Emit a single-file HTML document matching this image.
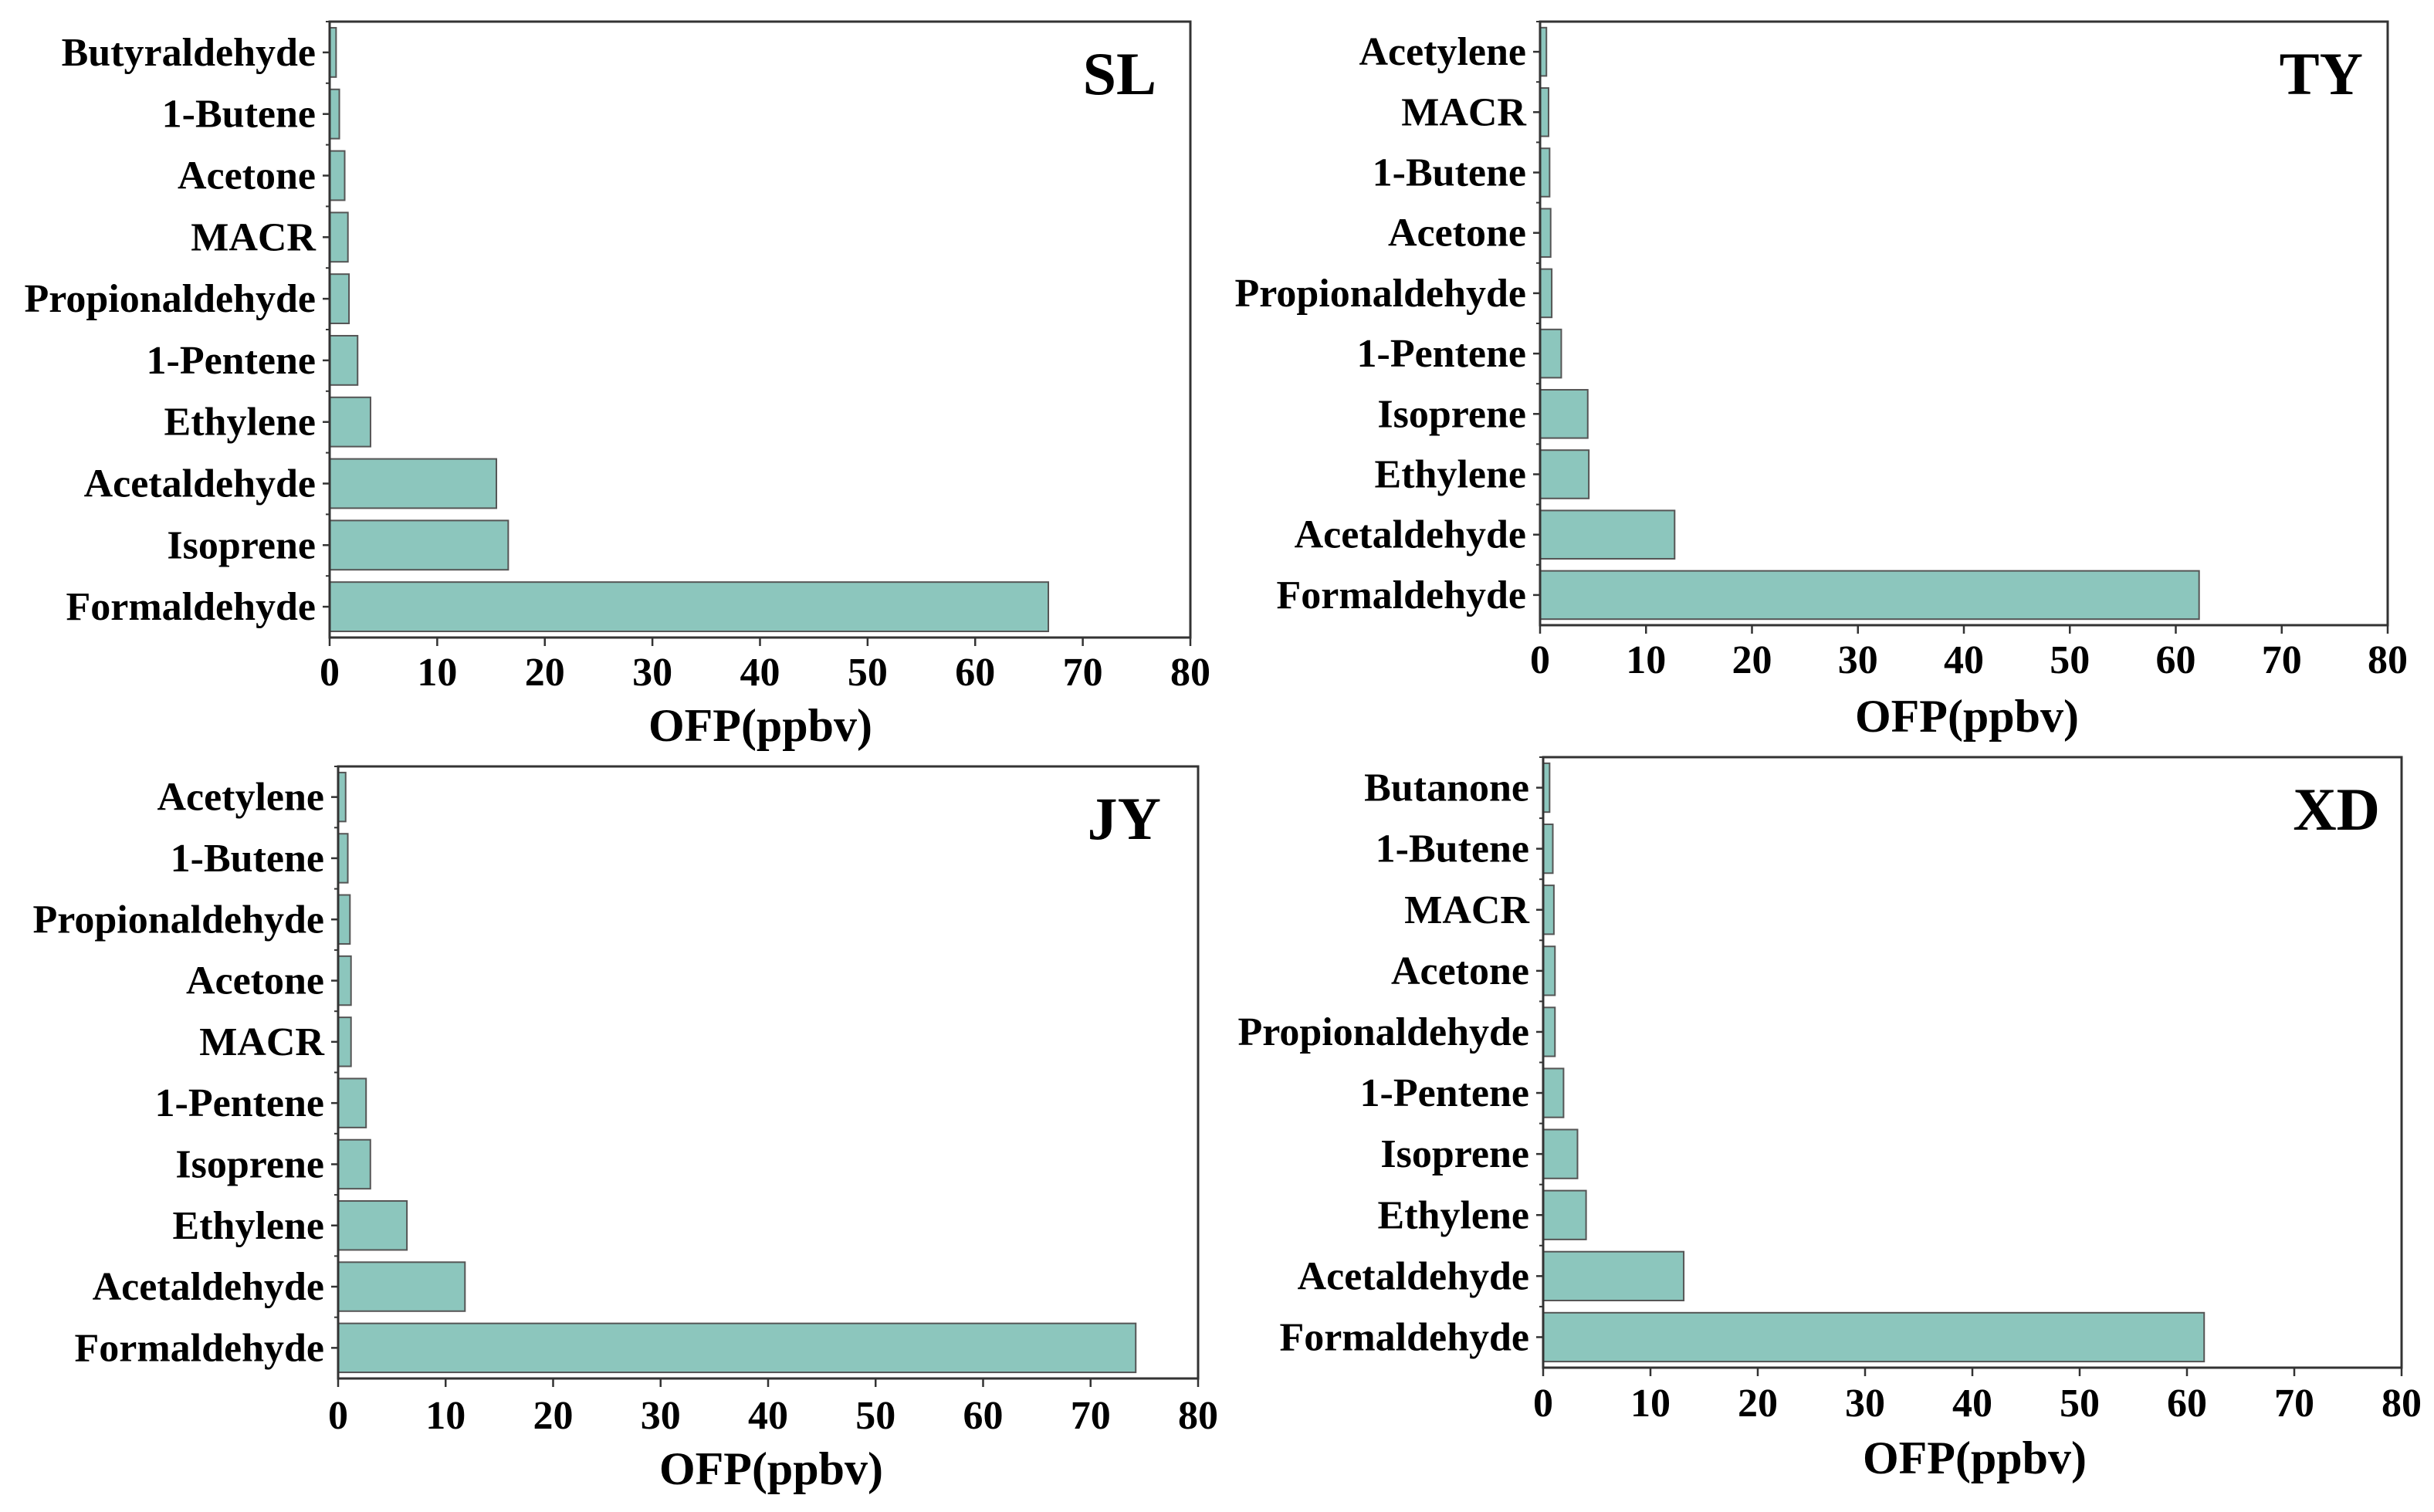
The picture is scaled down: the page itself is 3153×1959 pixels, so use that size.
<!DOCTYPE html>
<html><head><meta charset="utf-8"><style>
html,body{margin:0;padding:0;background:#fff;}
svg{display:block;}
text{font-family:"Liberation Serif",serif;font-weight:bold;fill:#000;}
</style></head>
<body>
<svg id="fig" width="3153" height="1959" viewBox="0 0 3153 1959" xmlns="http://www.w3.org/2000/svg"></svg>
<script>
const slCategories = ["Butyraldehyde","1-Butene","Acetone","MACR","Propionaldehyde","1-Pentene","Ethylene","Acetaldehyde","Isoprene","Formaldehyde"];
const slValues = [0.6,0.9,1.4,1.7,1.8,2.6,3.8,15.5,16.6,66.8];
const tyCategories = ["Acetylene","MACR","1-Butene","Acetone","Propionaldehyde","1-Pentene","Isoprene","Ethylene","Acetaldehyde","Formaldehyde"];
const tyValues = [0.6,0.8,0.9,1.0,1.1,2.0,4.5,4.6,12.7,62.2];
const jyCategories = ["Acetylene","1-Butene","Propionaldehyde","Acetone","MACR","1-Pentene","Isoprene","Ethylene","Acetaldehyde","Formaldehyde"];
const jyValues = [0.7,0.9,1.1,1.2,1.2,2.6,3.0,6.4,11.8,74.2];
const xdCategories = ["Butanone","1-Butene","MACR","Acetone","Propionaldehyde","1-Pentene","Isoprene","Ethylene","Acetaldehyde","Formaldehyde"];
const xdValues = [0.6,0.9,1.0,1.1,1.1,1.9,3.2,4.0,13.1,61.6];
const xTicks = [0,10,20,30,40,50,60,70,80];
const axisTitle = "OFP(ppbv)";

const NS = "http://www.w3.org/2000/svg";
const svg = document.getElementById("fig");
function mk(tag, attrs, parent){
  const e = document.createElementNS(NS, tag);
  for (const k in attrs) e.setAttribute(k, attrs[k]);
  (parent||svg).appendChild(e);
  return e;
}
function panel(id, name, cats, vals, L, R, T, B, tickBase, titleX, titleBase, labelRight, labelBase){
  const g = mk("g", {});
  
  
  const xs = v => L + (v - 0) / 80 * (R - L);
  const band = (B - T) / cats.length;
  const yc = i => T + band * (i + 0.5);
  cats.forEach((c, i) => {
    const bw = xs(vals[i]) - xs(0);
    const r = mk("rect", {x: xs(0), y: yc(i) - band*0.4, width: bw, height: band*0.8, fill: "#8cc6bd", stroke: "#555", "stroke-width": 2}, g);
    
    
    mk("line", {x1: L - 9, x2: L, y1: yc(i), y2: yc(i), stroke: "#333", "stroke-width": 2.5}, g);
    mk("line", {x1: L - 5, x2: L, y1: T + band*i, y2: T + band*i, stroke: "#333", "stroke-width": 2}, g);
    const t = mk("text", {x: L - 18, y: yc(i) + 17, "text-anchor": "end", "font-size": 52}, g);
    t.textContent = c;
    
    
  });
  const frame = mk("rect", {x: L, y: T, width: R - L, height: B - T, fill: "none", stroke: "#333", "stroke-width": 3}, g);
  
  
  xTicks.forEach(v => {
    mk("line", {x1: xs(v), x2: xs(v), y1: B, y2: B + 11, stroke: "#333", "stroke-width": 2.5}, g);
    const t = mk("text", {x: xs(v), y: tickBase, "text-anchor": "middle", "font-size": 52}, g);
    t.textContent = v;
    
    
  });
  const at = mk("text", {x: titleX, y: titleBase, "text-anchor": "middle", "font-size": 60}, g);
  at.textContent = axisTitle;
  
  
  const pl = mk("text", {x: labelRight, y: labelBase, "text-anchor": "end", "font-size": 78}, g);
  pl.textContent = name;
  
  
}
panel("sl", "SL", slCategories, slValues, 427, 1542, 28, 826, 888, 985, 960, 1498, 122);
panel("ty", "TY", tyCategories, tyValues, 1995, 3093, 28, 810, 872, 2548, 948, 3061, 122);
panel("jy", "JY", jyCategories, jyValues, 438, 1552, 993, 1786, 1851, 999, 1923, 1504, 1087);
panel("xd", "XD", xdCategories, xdValues, 1999, 3111, 981, 1772, 1835, 2558, 1909, 3083, 1075);
</script>
</body></html>
